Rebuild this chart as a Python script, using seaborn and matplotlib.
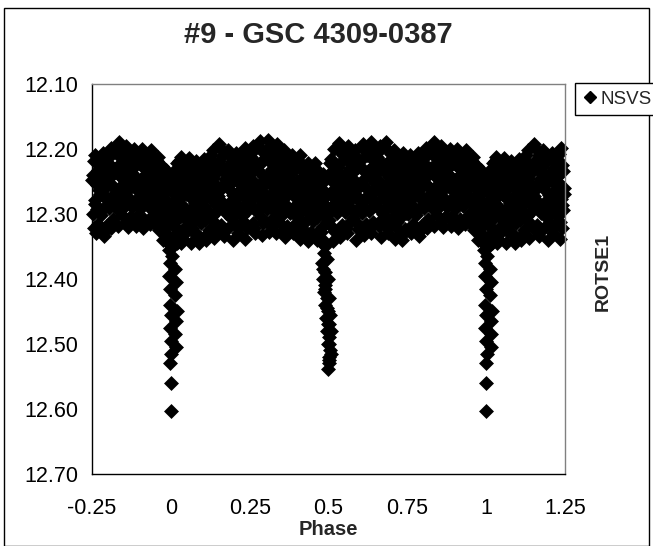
import numpy as np
import pandas as pd
import matplotlib
matplotlib.use("Agg")
import matplotlib.pyplot as plt
from matplotlib.patches import Rectangle
from matplotlib.lines import Line2D
import seaborn as sns

title = "#9 - GSC 4309-0387"
series_name = "NSVS"
right_label = "ROTSE1"
x_label = "Phase"
x_ticks = [-0.25, 0, 0.25, 0.5, 0.75, 1, 1.25]
x_tick_labels = ["-0.25", "0", "0.25", "0.5", "0.75", "1", "1.25"]
y_ticks = [12.10, 12.20, 12.30, 12.40, 12.50, 12.60, 12.70]

phase = [
    # primary eclipse
    0.993, 0.004, 0.997, 0.012, 0.995, 0.015, 0.998, 0.013, 0.996, 0.018,
    0.999, 0.016, 0.997, 0.014, 0.999, 0.015, 0.002, 0.998, 0.000, 0.000,
    0.985, 0.990, 0.008, 0.020, 0.975,
    # secondary eclipse
    0.478, 0.485, 0.480, 0.488, 0.483, 0.490, 0.486, 0.495, 0.490, 0.498,
    0.493, 0.500, 0.496, 0.503, 0.498, 0.505, 0.500, 0.503, 0.497,
    0.488, 0.494, 0.482, 0.497, 0.489, 0.502, 0.494, 0.506, 0.499, 0.508,
    0.502, 0.507, 0.501,
    # out of eclipse
    0.021, 0.017, 0.024, 0.019, 0.023, 0.016, 0.022, 0.018, 0.004, 0.008, 0.006, 0.002, 0.009, 0.012,
    0.031, 0.044, 0.028, 0.047, 0.036, 0.042, 0.029, 0.048, 0.038, 0.033,
    0.058, 0.071, 0.053, 0.066, 0.074, 0.061, 0.055, 0.069, 0.063,
    0.079, 0.092, 0.084, 0.097, 0.077, 0.088, 0.095, 0.081, 0.090,
    0.104, 0.118, 0.109, 0.122, 0.101, 0.114, 0.107, 0.120, 0.112,
    0.133, 0.127, 0.146, 0.138, 0.129, 0.143, 0.131, 0.148, 0.136,
    0.152, 0.166, 0.158, 0.171, 0.155, 0.163, 0.174, 0.160, 0.168,
    0.181, 0.194, 0.177, 0.189, 0.198, 0.184, 0.192, 0.179, 0.196,
    0.208, 0.221, 0.203, 0.215, 0.224, 0.211, 0.206, 0.218, 0.213,
    0.236, 0.229, 0.244, 0.232, 0.247, 0.239, 0.227, 0.242, 0.234,
    0.262, 0.255, 0.271, 0.258, 0.266, 0.252, 0.274, 0.260, 0.268,
    0.283, 0.297, 0.279, 0.291, 0.286, 0.299, 0.277, 0.293, 0.288,
    0.309, 0.302, 0.318, 0.305, 0.321, 0.312, 0.304, 0.316, 0.311,
    0.336, 0.328, 0.343, 0.331, 0.347, 0.339, 0.327, 0.344, 0.334,
    0.358, 0.371, 0.354, 0.366, 0.374, 0.361, 0.352, 0.369, 0.363,
    0.384, 0.397, 0.379, 0.391, 0.386, 0.399, 0.377, 0.393, 0.388,
    0.409, 0.402, 0.418, 0.405, 0.421, 0.412, 0.404, 0.416, 0.411,
    0.436, 0.428, 0.443, 0.431, 0.447, 0.439, 0.427, 0.444, 0.434,
    0.458, 0.471, 0.454, 0.466, 0.474, 0.461, 0.452, 0.469, 0.463,
    0.484, 0.478, 0.492, 0.481, 0.489, 0.495, 0.477, 0.486,
    0.509, 0.521, 0.504, 0.516, 0.524, 0.511, 0.502, 0.519, 0.513,
    0.533, 0.546, 0.529, 0.541, 0.549, 0.536, 0.527, 0.544, 0.538,
    0.561, 0.554, 0.569, 0.557, 0.572, 0.564, 0.552, 0.567, 0.559,
    0.583, 0.597, 0.579, 0.591, 0.586, 0.599, 0.577, 0.593, 0.588,
    0.608, 0.621, 0.603, 0.615, 0.624, 0.611, 0.606, 0.618, 0.613,
    0.636, 0.629, 0.644, 0.632, 0.647, 0.639, 0.627, 0.642, 0.634,
    0.662, 0.655, 0.671, 0.658, 0.666, 0.652, 0.674, 0.660, 0.668,
    0.683, 0.697, 0.679, 0.691, 0.686, 0.699, 0.677, 0.693, 0.688,
    0.709, 0.702, 0.718, 0.705, 0.721, 0.712, 0.704, 0.716, 0.711,
    0.736, 0.728, 0.743, 0.731, 0.747, 0.739, 0.727, 0.744, 0.734,
    0.758, 0.771, 0.754, 0.766, 0.774, 0.761, 0.752, 0.769, 0.763,
    0.784, 0.797, 0.779, 0.791, 0.786, 0.799, 0.777, 0.793, 0.788,
    0.809, 0.802, 0.818, 0.805, 0.821, 0.812, 0.804, 0.816, 0.811,
    0.836, 0.828, 0.843, 0.831, 0.847, 0.839, 0.827, 0.844, 0.834,
    0.858, 0.871, 0.854, 0.866, 0.874, 0.861, 0.852, 0.869, 0.863,
    0.884, 0.897, 0.879, 0.891, 0.886, 0.899, 0.877, 0.893, 0.888,
    0.909, 0.902, 0.918, 0.905, 0.921, 0.912, 0.904, 0.916, 0.911,
    0.936, 0.928, 0.943, 0.931, 0.947, 0.939, 0.927, 0.944, 0.934,
    0.958, 0.971, 0.954, 0.966, 0.974, 0.961, 0.952, 0.969, 0.963,
    0.984, 0.978, 0.992, 0.981, 0.989, 0.995, 0.977, 0.986,
    # further out-of-eclipse observations
    0.013, 0.020, 0.007, 0.024, 0.011, 0.017, 0.003,
    0.027, 0.040, 0.034, 0.049, 0.030, 0.045, 0.037,
    0.052, 0.064, 0.070, 0.057, 0.073, 0.060, 0.067,
    0.083, 0.076, 0.094, 0.086, 0.099, 0.080, 0.091,
    0.110, 0.103, 0.124, 0.116, 0.106, 0.121, 0.113,
    0.126, 0.140, 0.134, 0.149, 0.130, 0.145, 0.137,
    0.161, 0.154, 0.173, 0.165, 0.151, 0.170, 0.157,
    0.186, 0.178, 0.197, 0.183, 0.191, 0.176, 0.199,
    0.201, 0.214, 0.209, 0.223, 0.204, 0.219, 0.212,
    0.230, 0.241, 0.226, 0.248, 0.237, 0.245, 0.233,
    0.256, 0.269, 0.251, 0.263, 0.273, 0.259, 0.265,
    0.281, 0.294, 0.276, 0.290, 0.298, 0.284, 0.287,
    0.314, 0.301, 0.320, 0.307, 0.324, 0.310, 0.317,
    0.330, 0.341, 0.326, 0.349, 0.337, 0.345, 0.333,
    0.356, 0.368, 0.351, 0.373, 0.360, 0.365, 0.355,
    0.381, 0.394, 0.376, 0.389, 0.398, 0.383, 0.391,
    0.407, 0.420, 0.401, 0.414, 0.424, 0.410, 0.417,
    0.430, 0.441, 0.426, 0.448, 0.437, 0.445, 0.433,
    0.456, 0.468, 0.451, 0.473, 0.460, 0.465, 0.457,
    0.480, 0.476, 0.487, 0.482, 0.491, 0.479,
    0.518, 0.506, 0.503, 0.523, 0.510, 0.515, 0.507,
    0.530, 0.543, 0.526, 0.548, 0.535, 0.540, 0.532,
    0.556, 0.568, 0.551, 0.573, 0.560, 0.565, 0.555,
    0.581, 0.594, 0.576, 0.589, 0.598, 0.584, 0.591,
    0.614, 0.601, 0.620, 0.607, 0.624, 0.610, 0.617,
    0.630, 0.641, 0.626, 0.648, 0.637, 0.645, 0.633,
    0.656, 0.669, 0.651, 0.663, 0.673, 0.659, 0.665,
    0.681, 0.694, 0.676, 0.690, 0.698, 0.684, 0.687,
    0.714, 0.701, 0.720, 0.707, 0.724, 0.710, 0.717,
    0.730, 0.741, 0.726, 0.748, 0.737, 0.745, 0.733,
    0.756, 0.768, 0.751, 0.773, 0.760, 0.765, 0.757,
    0.781, 0.794, 0.776, 0.789, 0.798, 0.783, 0.791,
    0.814, 0.801, 0.820, 0.807, 0.824, 0.810, 0.817,
    0.830, 0.841, 0.826, 0.848, 0.837, 0.845, 0.833,
    0.856, 0.868, 0.851, 0.873, 0.860, 0.865, 0.857,
    0.881, 0.894, 0.876, 0.889, 0.898, 0.883, 0.891,
    0.914, 0.901, 0.920, 0.907, 0.924, 0.910, 0.917,
    0.930, 0.941, 0.926, 0.948, 0.937, 0.945, 0.933,
    0.956, 0.968, 0.951, 0.973, 0.960, 0.965, 0.957,
    0.980, 0.991, 0.976, 0.987, 0.983, 0.994, 0.979,
]

# Magnitudes matching the phases above
magnitude = [
    12.355, 12.365, 12.375, 12.385, 12.395, 12.405, 12.415, 12.425, 12.440, 12.450,
    12.455, 12.465, 12.475, 12.485, 12.495, 12.505, 12.515, 12.530, 12.560, 12.603,
    12.330, 12.345, 12.350, 12.345, 12.340,
    12.345, 12.360, 12.375, 12.390, 12.400, 12.410, 12.420, 12.430, 12.440, 12.450,
    12.460, 12.470, 12.480, 12.490, 12.500, 12.510, 12.520, 12.530, 12.538,
    12.350, 12.370, 12.385, 12.400, 12.415, 12.430, 12.445, 12.455, 12.470, 12.480,
    12.500, 12.515, 12.525,
    12.222, 12.241, 12.258, 12.276, 12.293, 12.310, 12.327, 12.343, 12.245, 12.265, 12.285, 12.300, 12.318, 12.335,
    12.212, 12.226, 12.244, 12.259, 12.273, 12.290, 12.305, 12.318, 12.332, 12.345,
    12.214, 12.229, 12.246, 12.262, 12.278, 12.294, 12.311, 12.327, 12.344,
    12.219, 12.236, 12.251, 12.267, 12.283, 12.298, 12.314, 12.330, 12.345,
    12.216, 12.232, 12.248, 12.263, 12.279, 12.294, 12.309, 12.325, 12.340,
    12.201, 12.218, 12.235, 12.252, 12.270, 12.286, 12.303, 12.320, 12.337,
    12.193, 12.210, 12.228, 12.246, 12.263, 12.281, 12.299, 12.317, 12.334,
    12.201, 12.219, 12.236, 12.254, 12.271, 12.289, 12.306, 12.323, 12.340,
    12.206, 12.222, 12.237, 12.253, 12.268, 12.284, 12.299, 12.315, 12.330,
    12.199, 12.217, 12.234, 12.252, 12.269, 12.286, 12.303, 12.321, 12.338,
    12.196, 12.213, 12.230, 12.247, 12.264, 12.280, 12.297, 12.314, 12.330,
    12.188, 12.206, 12.224, 12.242, 12.260, 12.278, 12.296, 12.314, 12.332,
    12.186, 12.204, 12.222, 12.240, 12.257, 12.275, 12.293, 12.311, 12.328,
    12.193, 12.210, 12.227, 12.244, 12.261, 12.278, 12.296, 12.313, 12.330,
    12.201, 12.218, 12.235, 12.251, 12.268, 12.285, 12.302, 12.318, 12.335,
    12.209, 12.224, 12.239, 12.254, 12.269, 12.284, 12.299, 12.315, 12.330,
    12.210, 12.226, 12.242, 12.258, 12.274, 12.290, 12.306, 12.322, 12.338,
    12.221, 12.236, 12.251, 12.266, 12.281, 12.297, 12.312, 12.327, 12.342,
    12.222, 12.237, 12.252, 12.266, 12.281, 12.296, 12.311, 12.326, 12.340,
    12.238, 12.253, 12.268, 12.283, 12.298, 12.313, 12.328, 12.342,
    12.215, 12.230, 12.246, 12.262, 12.278, 12.294, 12.310, 12.326, 12.341,
    12.191, 12.209, 12.227, 12.245, 12.263, 12.281, 12.299, 12.317, 12.335,
    12.196, 12.213, 12.230, 12.246, 12.263, 12.280, 12.297, 12.313, 12.330,
    12.201, 12.219, 12.236, 12.254, 12.271, 12.289, 12.306, 12.323, 12.340,
    12.193, 12.210, 12.228, 12.245, 12.263, 12.280, 12.298, 12.315, 12.332,
    12.190, 12.208, 12.225, 12.243, 12.260, 12.278, 12.295, 12.313, 12.330,
    12.196, 12.213, 12.231, 12.248, 12.266, 12.283, 12.300, 12.318, 12.335,
    12.190, 12.208, 12.225, 12.243, 12.260, 12.278, 12.295, 12.313, 12.330,
    12.201, 12.218, 12.235, 12.252, 12.270, 12.287, 12.304, 12.321, 12.338,
    12.206, 12.223, 12.240, 12.256, 12.273, 12.290, 12.306, 12.323, 12.340,
    12.210, 12.225, 12.240, 12.255, 12.270, 12.285, 12.300, 12.315, 12.330,
    12.206, 12.222, 12.238, 12.254, 12.270, 12.286, 12.302, 12.318, 12.334,
    12.198, 12.214, 12.229, 12.245, 12.260, 12.276, 12.291, 12.307, 12.322,
    12.190, 12.206, 12.222, 12.238, 12.254, 12.270, 12.286, 12.302, 12.318,
    12.195, 12.211, 12.226, 12.242, 12.257, 12.273, 12.289, 12.304, 12.320,
    12.200, 12.215, 12.230, 12.244, 12.259, 12.274, 12.289, 12.303, 12.318,
    12.200, 12.215, 12.231, 12.246, 12.261, 12.276, 12.291, 12.307, 12.322,
    12.201, 12.215, 12.230, 12.244, 12.258, 12.272, 12.287, 12.301, 12.315,
    12.212, 12.226, 12.240, 12.254, 12.268, 12.283, 12.297, 12.311, 12.325,
    12.232, 12.247, 12.262, 12.277, 12.292, 12.307, 12.322, 12.338,
    # further out-of-eclipse observations
    12.232, 12.250, 12.268, 12.286, 12.304, 12.322, 12.338,
    12.219, 12.236, 12.253, 12.270, 12.287, 12.304, 12.338,
    12.221, 12.238, 12.255, 12.272, 12.289, 12.306, 12.322,
    12.227, 12.244, 12.260, 12.276, 12.292, 12.308, 12.338,
    12.224, 12.240, 12.256, 12.272, 12.287, 12.302, 12.333,
    12.210, 12.227, 12.244, 12.261, 12.278, 12.295, 12.312,
    12.202, 12.219, 12.237, 12.255, 12.272, 12.290, 12.326,
    12.210, 12.228, 12.245, 12.262, 12.280, 12.297, 12.314,
    12.214, 12.230, 12.245, 12.261, 12.276, 12.292, 12.322,
    12.208, 12.225, 12.243, 12.260, 12.277, 12.294, 12.312,
    12.204, 12.221, 12.238, 12.255, 12.272, 12.289, 12.322,
    12.197, 12.215, 12.233, 12.251, 12.269, 12.287, 12.305,
    12.195, 12.213, 12.231, 12.248, 12.266, 12.284, 12.319,
    12.201, 12.218, 12.235, 12.252, 12.270, 12.287, 12.304,
    12.209, 12.226, 12.243, 12.260, 12.276, 12.293, 12.326,
    12.216, 12.231, 12.246, 12.261, 12.276, 12.292, 12.322,
    12.218, 12.234, 12.250, 12.266, 12.282, 12.298, 12.330,
    12.228, 12.243, 12.258, 12.274, 12.289, 12.304, 12.334,
    12.229, 12.244, 12.259, 12.274, 12.289, 12.304, 12.333,
    12.246, 12.261, 12.276, 12.291, 12.306, 12.320,
    12.200, 12.222, 12.238, 12.254, 12.270, 12.286, 12.318,
    12.200, 12.218, 12.236, 12.254, 12.272, 12.290, 12.326,
    12.205, 12.221, 12.238, 12.255, 12.272, 12.288, 12.322,
    12.210, 12.228, 12.245, 12.262, 12.280, 12.297, 12.314,
    12.202, 12.219, 12.237, 12.254, 12.271, 12.289, 12.324,
    12.199, 12.217, 12.234, 12.252, 12.269, 12.286, 12.322,
    12.204, 12.222, 12.239, 12.257, 12.274, 12.292, 12.309,
    12.199, 12.217, 12.234, 12.252, 12.269, 12.287, 12.322,
    12.210, 12.227, 12.244, 12.261, 12.278, 12.295, 12.312,
    12.214, 12.231, 12.248, 12.265, 12.282, 12.298, 12.332,
    12.218, 12.233, 12.248, 12.263, 12.278, 12.293, 12.322,
    12.214, 12.230, 12.246, 12.262, 12.278, 12.294, 12.326,
    12.206, 12.222, 12.237, 12.253, 12.268, 12.284, 12.314,
    12.198, 12.214, 12.230, 12.246, 12.262, 12.278, 12.294,
    12.203, 12.219, 12.234, 12.250, 12.265, 12.281, 12.312,
    12.207, 12.222, 12.237, 12.252, 12.266, 12.281, 12.310,
    12.207, 12.223, 12.238, 12.253, 12.268, 12.284, 12.314,
    12.208, 12.222, 12.237, 12.251, 12.265, 12.280, 12.308,
    12.219, 12.233, 12.247, 12.261, 12.275, 12.290, 12.318,
    12.239, 12.254, 12.269, 12.284, 12.299, 12.315, 12.330,
]

assert len(phase) == len(magnitude), (len(phase), len(magnitude))

# Folded light curve shown from -0.25 to 1.25 (points repeated one cycle apart)
base = pd.DataFrame({"phase": phase, "mag": magnitude})
df = pd.concat([
    base,
    base[base.phase >= 0.75].assign(phase=lambda d: d.phase - 1),
    base[base.phase < 0.25].assign(phase=lambda d: d.phase + 1),
], ignore_index=True)

sns.set_style("white")
plt.rcParams["font.family"] = ["Liberation Sans", "DejaVu Sans"]

W, H = 653, 546
fig = plt.figure(figsize=(W / 100, H / 100), dpi=100)
fig.patch.set_facecolor("white")

# outer chart border
fig.add_artist(Rectangle((4 / W, 0.5 / H), (649 - 4) / W, (546 - 8.5) / H,
                         transform=fig.transFigure, fill=False,
                         edgecolor="black", linewidth=1.0))

ax = fig.add_axes([92 / W, 1 - 474 / H, (565 - 92) / W, (474 - 84) / H])
sns.scatterplot(data=df, x="phase", y="mag", ax=ax, marker="D", color="black",
                s=58, linewidth=0, legend=False, clip_on=False)

ax.set_xlim(-0.25, 1.25)
ax.set_ylim(12.70, 12.10)
ax.set_xticks(x_ticks)
ax.set_xticklabels(x_tick_labels)
ax.set_yticks(y_ticks)
ax.set_yticklabels([f"{v:.2f}" for v in y_ticks])
ax.tick_params(axis="both", direction="inout", length=8, width=1, color="black",
               labelsize=15.5, labelcolor="black")
ax.tick_params(axis="y", pad=6)
ax.tick_params(axis="x", pad=13)
ax.set_xlabel(x_label, fontsize=14.5, fontweight="bold", labelpad=1)
ax.set_ylabel("")
for side in ["left", "bottom"]:
    ax.spines[side].set_color("black")
    ax.spines[side].set_linewidth(1.0)
for side in ["top", "right"]:
    ax.spines[side].set_color("#808080")
    ax.spines[side].set_linewidth(1.0)

fig.text(318 / W, 1 - 35 / H, title, ha="center", va="center",
         fontsize=21, fontweight="bold")
fig.text(603 / W, 1 - 272 / H, right_label, ha="center", va="center",
         rotation=90, fontsize=14, fontweight="bold")

handle = Line2D([], [], marker="D", color="black", linestyle="none", markersize=6.5)
leg = fig.legend([handle], [series_name], loc="upper left",
                 bbox_to_anchor=(575 / W, 1 - 83 / H), frameon=True,
                 fancybox=False, edgecolor="black", fontsize=13.5,
                 handlelength=0.8, handletextpad=0.15, borderpad=0.4,
                 borderaxespad=0, framealpha=1)
leg.get_frame().set_linewidth(1.0)

fig.savefig("out.png", dpi=100, facecolor="white")
